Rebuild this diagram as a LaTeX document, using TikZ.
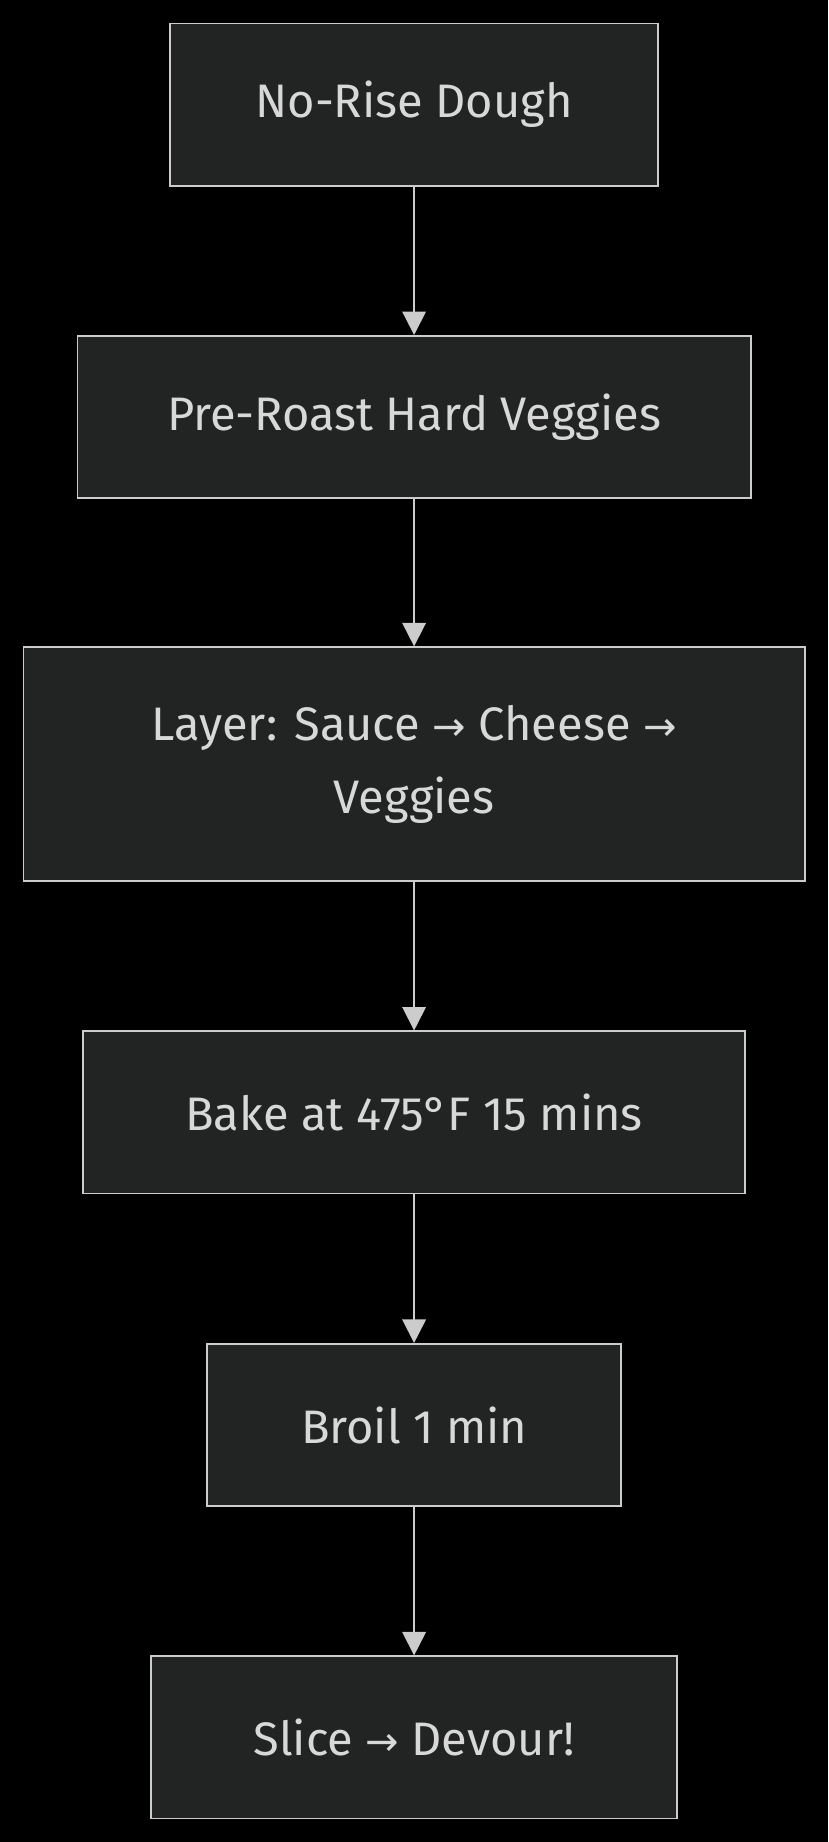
\documentclass[tikz,border=0pt]{standalone}
\usepackage{fontspec}
\setmainfont{Fira Sans}
\newfontfamily\arrowfont{DejaVu Sans}
\newcommand{\myarr}{{\arrowfont\fontsize{34}{62}\selectfont →}}
\usetikzlibrary{arrows.meta}
\definecolor{boxfill}{HTML}{222323}
\definecolor{edge}{HTML}{CCCCCC}
\definecolor{txt}{HTML}{D8D8D8}
\begin{document}
\begin{tikzpicture}[x=1pt,y=-1pt,
  stepbox/.style={draw=edge,line width=1.6pt,fill=boxfill,text=txt,align=center,font=\fontsize{40}{62}\selectfont,inner sep=0pt},
  flow/.style={draw=edge,line width=1.6pt,-{Triangle[length=20pt,width=20pt]}}]
\fill[black] (0,0) rectangle (705,1568);
\useasboundingbox (0,0) rectangle (705,1568);
\node[stepbox,minimum width=415,minimum height=138] (a) at (352.5,89) {No-Rise Dough};
\node[stepbox,minimum width=573,minimum height=138] (b) at (352.5,355) {Pre-Roast Hard Veggies};
\node[stepbox,minimum width=665,minimum height=199] (c) at (352.5,650.5) {Layer: Sauce \myarr{} Cheese \myarr\\Veggies};
\node[stepbox,minimum width=563,minimum height=138] (d) at (352.5,947) {Bake at 475°F 15 mins};
\node[stepbox,minimum width=352,minimum height=138] (e) at (352.5,1213) {Broil 1 min};
\node[stepbox,minimum width=448,minimum height=138] (f) at (352.5,1479) {Slice \myarr{} Devour!};
\draw[flow] (a) -- (b);
\draw[flow] (b) -- (c);
\draw[flow] (c) -- (d);
\draw[flow] (d) -- (e);
\draw[flow] (e) -- (f);
\end{tikzpicture}
\end{document}
